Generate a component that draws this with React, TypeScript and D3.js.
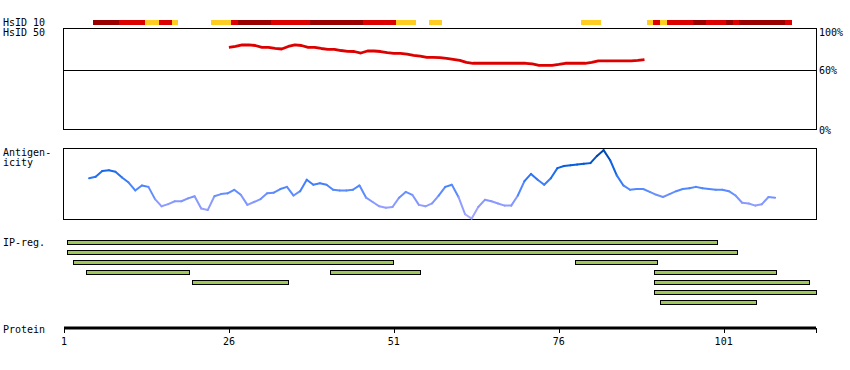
import React from "react";
import * as d3 from "d3";

// ---------- data ----------
const tickResidues = [1, 26, 51, 76, 101];
const proteinEnd = 115;

const hsid10Start = [5, 9, 13, 15, 17, 23, 26, 27, 32, 38, 46, 51, 56, 79, 89, 90, 91, 92, 96, 98, 101, 102, 103, 110];
const hsid10End = [9, 13, 15, 17, 18, 26, 27, 32, 38, 46, 51, 54, 58, 82, 90, 91, 92, 96, 98, 101, 102, 103, 110, 111];
const hsid10Level = ["high", "mid", "low", "mid", "low", "low", "mid", "high", "mid", "high", "mid", "low", "low", "low", "low", "mid", "low", "mid", "high", "mid", "high", "mid", "high", "mid"];

const hsid50FirstResidue = 26;
const hsid50Values = [
  82.3, 83.1, 84.6, 84.6, 84.1, 82.3, 82.3, 81.3, 80.6, 83.1,
  84.6, 84.1, 82.3, 82.3, 81.1, 80.3, 80.3, 79.1, 78.3, 78.1,
  76.6, 78.6, 78.6, 78.1, 77.1, 76.3, 76.3, 75.6, 74.3, 73.6,
  72.3, 72.3, 72.1, 71.3, 70.3, 69.2, 67.2, 66.4, 66.4, 66.4,
  66.4, 66.4, 66.4, 66.4, 66.4, 66.4, 65.7, 64.4, 64.4, 64.4,
  65.2, 66.4, 66.4, 66.4, 66.4, 67.2, 68.7, 68.7, 68.7, 68.7,
  68.7, 68.7, 69.2, 70.1,
];
const hsid50Ticks = [100, 60, 0];

const antigenFirstResidue = 5;
const antigenValues = [
  0.58, 0.6, 0.68, 0.69, 0.67, 0.59, 0.52, 0.41, 0.48, 0.46,
  0.29, 0.19, 0.22, 0.26, 0.26, 0.3, 0.33, 0.16, 0.14, 0.33,
  0.36, 0.37, 0.42, 0.35, 0.21, 0.25, 0.29, 0.37, 0.38, 0.43,
  0.46, 0.34, 0.4, 0.56, 0.49, 0.51, 0.49, 0.42, 0.41, 0.41,
  0.42, 0.48, 0.31, 0.25, 0.19, 0.17, 0.18, 0.31, 0.39, 0.35,
  0.21, 0.19, 0.23, 0.34, 0.46, 0.49, 0.32, 0.08, 0.02, 0.18,
  0.28, 0.26, 0.23, 0.2, 0.2, 0.34, 0.54, 0.64, 0.56, 0.49,
  0.58, 0.72, 0.75, 0.76, 0.77, 0.78, 0.79, 0.89, 0.97, 0.83,
  0.62, 0.48, 0.42, 0.43, 0.43, 0.39, 0.35, 0.32, 0.36, 0.4,
  0.43, 0.44, 0.46, 0.44, 0.43, 0.42, 0.42, 0.4, 0.34, 0.24,
  0.23, 0.2, 0.22, 0.32, 0.31,
];

const ipStart = [1, 1, 2, 78, 4, 41, 90, 20, 90, 90, 91];
const ipEnd = [100, 103, 51, 91, 20, 55, 109, 35, 114, 115, 106];
const ipRow = [0, 1, 2, 2, 3, 3, 3, 4, 4, 5, 6];

// ---------- layout ----------
const W = 850;
const H = 370;
const X0 = 64;
const X1 = 816;
const FONT = "'DejaVu Sans Mono', monospace";
const OFF = 0.35;
const BAR_START_OFF = 0.4;
const BAR_END_OFF = 0.1;

const levelColor: Record<string, string> = {
  high: "#990000",
  mid: "#dd0000",
  low: "#ffcc22",
};

export default function App() {
  const x = d3.scaleLinear().domain([1, proteinEnd]).range([X0, X1]);

  const yHs = d3.scaleLinear().domain([0, 100]).range([130, 29.5]);
  const hsLine = d3
    .line<number>()
    .x((_, i) => x(hsid50FirstResidue + i))
    .y((d) => yHs(d));

  const yAg = d3.scaleLinear().domain([0, 1]).range([220, 148]);
  const agColor = d3
    .scaleLinear<string>()
    .domain([0, 0.25, 0.45, 0.6, 0.8, 1])
    .range(["#b0aaff", "#8899ff", "#4d86ff", "#2b74f5", "#0058d8", "#003f99"]);

  const agSegs = antigenValues.slice(1).map((v, i) => {
    const a = antigenValues[i];
    return {
      x1: x(antigenFirstResidue + i - 0.2),
      y1: yAg(a),
      x2: x(antigenFirstResidue + i + 0.8),
      y2: yAg(v),
      c: agColor((a + v) / 2),
    };
  });

  const ipY = (row: number) => 240 + row * 10;

  return (
    <div style={{ position: "absolute", left: 0, top: 0 }}>
      <svg width={W} height={H} style={{ display: "block", background: "#fff" }}>
        <g fontFamily={FONT} fontSize={10} fill="#000">
          <text x={3} y={26}>HsID 10</text>
          <text x={3} y={36}>HsID 50</text>
          <text x={3} y={156}>Antigen-</text>
          <text x={3} y={166}>icity</text>
          <text x={3} y={246}>IP-reg.</text>
          <text x={3} y={333}>Protein</text>
        </g>

        {/* HsID 10 strip */}
        <g shapeRendering="crispEdges">
          {hsid10Start.map((s, i) => (
            <rect
              key={i}
              x={x(s + OFF)}
              y={20}
              width={x(hsid10End[i] + OFF) - x(s + OFF)}
              height={5}
              fill={levelColor[hsid10Level[i]]}
            />
          ))}
        </g>

        {/* HsID 50 panel */}
        <rect x={63.5} y={28.5} width={X1 - 63.5} height={101} fill="none" stroke="#000" strokeWidth={1} shapeRendering="crispEdges" />
        <line x1={63.5} x2={X1} y1={Math.round(yHs(60)) + 0.5} y2={Math.round(yHs(60)) + 0.5} stroke="#000" shapeRendering="crispEdges" />
        <g fontFamily={FONT} fontSize={10}>
          {hsid50Ticks.map((t) => (
            <text key={t} x={819} y={Math.max(yHs(t) + 4, 36)}>
              {t}%
            </text>
          ))}
        </g>
        <path d={hsLine(hsid50Values) || ""} fill="none" stroke="#dd0000" strokeWidth={2.8} strokeLinejoin="round" />

        {/* Antigenicity panel */}
        <rect x={63.5} y={148.5} width={X1 - 63.5} height={71} fill="none" stroke="#000" strokeWidth={1} shapeRendering="crispEdges" />
        <g strokeLinecap="round" strokeWidth={2}>
          {agSegs.map((s, i) => (
            <line key={i} x1={s.x1} y1={s.y1} x2={s.x2} y2={s.y2} stroke={s.c} />
          ))}
        </g>

        {/* IP regions */}
        <g shapeRendering="crispEdges">
          {ipStart.map((s, i) => {
            const xs = Math.round(x(s + BAR_START_OFF));
            const xe = Math.round(x(ipEnd[i] + BAR_END_OFF));
            return (
              <rect
                key={i}
                x={xs + 0.5}
                y={ipY(ipRow[i]) + 0.5}
                width={xe - xs - 1}
                height={4}
                fill="#9ec85a"
                stroke="#000"
                strokeWidth={1}
              />
            );
          })}
        </g>

        {/* Protein axis */}
        <line x1={X0} x2={X1} y1={328} y2={328} stroke="#000" strokeWidth={3} />
        {[...tickResidues, proteinEnd].map((t) => (
          <line key={t} x1={Math.round(x(t)) + 0.5} x2={Math.round(x(t)) + 0.5} y1={328} y2={333} stroke="#000" strokeWidth={1} />
        ))}
        <g fontFamily={FONT} fontSize={10} textAnchor="middle">
          {tickResidues.map((t) => (
            <text key={t} x={x(t)} y={345}>
              {t}
            </text>
          ))}
        </g>
      </svg>
    </div>
  );
}
